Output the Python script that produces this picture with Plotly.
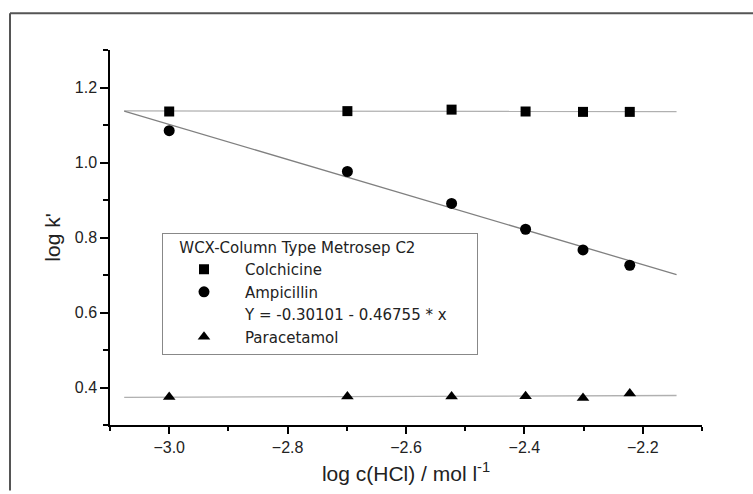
import numpy as np
import plotly.graph_objects as go

# log c(HCl) values
x_vals = [-3.0, -2.699, -2.523, -2.398, -2.301, -2.222]
colchicine = [1.136, 1.137, 1.141, 1.136, 1.135, 1.135]
ampicillin = [1.085, 0.976, 0.891, 0.822, 0.767, 0.726]
paracetamol = [0.375, 0.376, 0.376, 0.377, 0.372, 0.384]

# fitted line for ampicillin (from legend): Y = a + b*x
amp_a = -0.30101
amp_b = -0.46755
fit_range = [-3.076, -2.143]

legend_title = "WCX-Column Type Metrosep C2"
eq_label = "Y = -0.30101 - 0.46755 * x"

xs = np.array(fit_range)
col_fit = np.polyval(np.polyfit(x_vals, colchicine, 1), xs)
par_fit = np.polyval(np.polyfit(x_vals, paracetamol, 1), xs)
amp_fit = amp_a + amp_b * xs

fig = go.Figure()
fig.add_trace(go.Scatter(x=xs, y=col_fit, mode="lines", line=dict(color="#b0b0b0", width=1.3),
                         showlegend=False, hoverinfo="skip"))
fig.add_trace(go.Scatter(x=xs, y=amp_fit, mode="lines", line=dict(color="#808080", width=1.3),
                         showlegend=False, hoverinfo="skip"))
fig.add_trace(go.Scatter(x=xs, y=par_fit, mode="lines", line=dict(color="#b0b0b0", width=1.3),
                         showlegend=False, hoverinfo="skip"))

fig.add_trace(go.Scatter(x=x_vals, y=colchicine, mode="markers", name="Colchicine",
                         marker=dict(symbol="square", size=10, color="black")))
fig.add_trace(go.Scatter(x=x_vals, y=ampicillin, mode="markers", name="Ampicillin",
                         marker=dict(symbol="circle", size=11, color="black")))
fig.add_trace(go.Scatter(x=[None], y=[None], mode="lines", name=eq_label + "\u00a0" * 5,
                         line=dict(color="rgba(0,0,0,0)", width=1)))
fig.add_trace(go.Scatter(x=x_vals, y=paracetamol, mode="markers", name="Paracetamol",
                         marker=dict(symbol="triangle-up", size=11, color="black")))

L, R, T, B = 110, 51, 50, 66
W, H = 753, 494
pw, ph = W - L - R, H - T - B

def px(x):
    return (x - L) / pw

def py(y):
    return (H - B - y) / ph

legend_font = "DejaVu Sans, Liberation Sans, Arial, sans-serif"

fig.update_layout(
    width=W, height=H,
    margin=dict(l=L, r=R, t=T, b=B),
    paper_bgcolor="white", plot_bgcolor="white",
    font=dict(family="Liberation Sans, Arial, sans-serif", size=16, color="#222"),
    showlegend=True,
    legend=dict(
        x=px(162), y=py(234), xanchor="left", yanchor="top",
        bgcolor="white", bordercolor="#888", borderwidth=1,
        title=dict(text="\u00a0\u00a0\u00a0" + legend_title, font=dict(size=15, color="#222", family=legend_font), side="top"),
        font=dict(size=15, color="#222", family=legend_font),
        itemwidth=72, traceorder="normal",
        itemsizing="trace",
    ),
    xaxis=dict(
        range=[-3.1, -2.1], dtick=0.2, tick0=-3.0, tickformat=".1f",
        showline=True, linecolor="black", linewidth=1.5,
        ticks="outside", ticklen=7, tickwidth=1.5, tickcolor="black",
        minor=dict(dtick=0.1, ticks="outside", ticklen=4, tickwidth=1.5, tickcolor="black"),
        showgrid=False, zeroline=False,
        title=dict(text="log c(HCl) / mol l<sup>-1</sup>", font=dict(size=21), standoff=11),
        tickfont=dict(size=16),
    ),
    yaxis=dict(
        range=[0.3, 1.3], dtick=0.2, tick0=0.4, tickformat=".1f",
        showline=True, linecolor="black", linewidth=1.5,
        ticks="outside", ticklen=8, tickwidth=1.5, tickcolor="black",
        minor=dict(dtick=0.1, ticks="outside", ticklen=5, tickwidth=1.5, tickcolor="black"),
        showgrid=False, zeroline=False,
        title=dict(text="log k'", font=dict(size=21), standoff=8),
        tickfont=dict(size=16),
    ),
    shapes=[
        dict(type="line", xref="paper", yref="paper", x0=px(10), x1=px(753), y0=py(13), y1=py(13),
             line=dict(color="#555", width=2)),
        dict(type="line", xref="paper", yref="paper", x0=px(10), x1=px(10), y0=py(13), y1=py(494),
             line=dict(color="#555", width=2)),
    ],
)

fig.write_html("out.html")
